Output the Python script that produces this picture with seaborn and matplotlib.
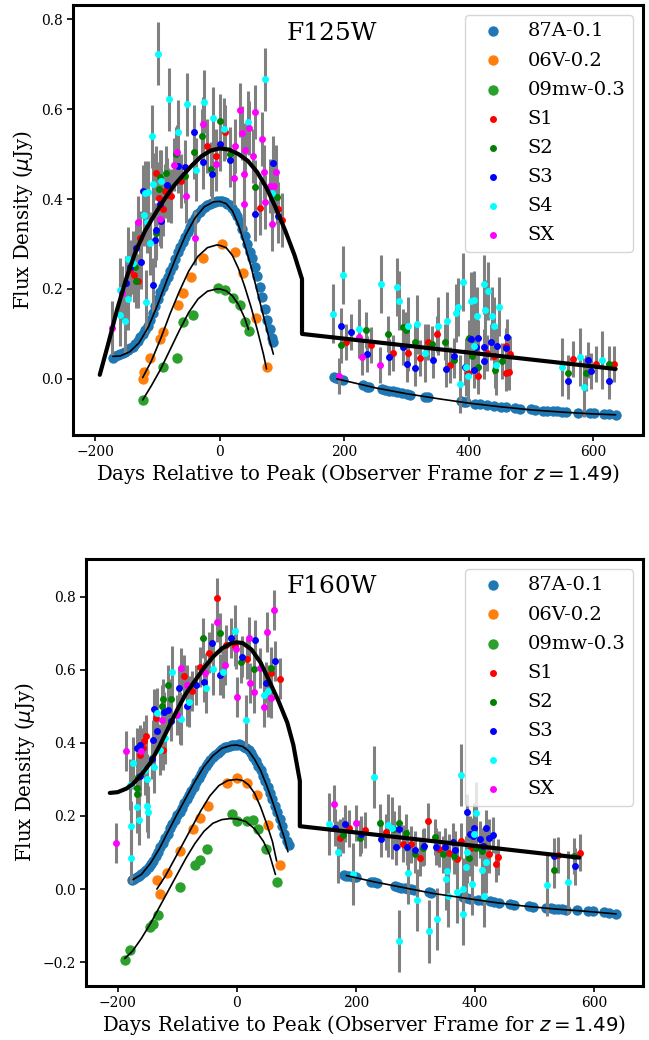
import numpy as np
import pandas as pd
import matplotlib
matplotlib.use("Agg")
import matplotlib.pyplot as plt
from matplotlib.ticker import MultipleLocator
import seaborn as sns

# ---------------- DATA ----------------
filters = ["F125W", "F160W"]
ref_labels = ["87A-0.1", "06V-0.2", "09mw-0.3"]
ref_colors = ["#1f77b4", "#ff7f0e", "#2ca02c"]
s_labels = ["S1", "S2", "S3", "S4", "SX"]
s_colors = ["red", "green", "blue", "cyan", "magenta"]

# reference (template) light curves: observed points
r87A_day = {
    "F125W": [-172, -168, -164, -160, -156, -152, -148, -144, -140, -136, -132, -128, -124, -120, -116, -112,
              -108, -104, -100, -96, -92, -88, -84, -80, -76, -72, -68, -64, -60, -56, -52, -48, -44, -40,
              -36, -32, -28, -24, -20, -16, -12, -8, -4, 0, 4, 8, 12, 16, 20, 24, 28, 32, 36, 40, 44, 48,
              52, 56, 60, 64, 68, 72, 76, 80, 84, 86,
              183, 187, 192, 198, 230, 236, 240, 260, 265, 272, 278, 285, 292, 300, 305, 330, 335, 388, 392,
              396, 410, 418, 430, 440, 452, 460, 475, 483, 500, 507, 520, 526, 535, 542, 550, 557, 575, 595,
              602, 618, 625, 636],
    "F160W": [-176, -172, -168, -164, -160, -156, -152, -148, -144, -140, -136, -132, -128, -124, -120, -116,
              -112, -108, -104, -100, -96, -92, -88, -84, -80, -76, -72, -68, -64, -60, -56, -52, -48, -44,
              -40, -36, -32, -28, -24, -20, -16, -12, -8, -4, 0, 4, 8, 12, 16, 20, 24, 28, 32, 36, 40, 44,
              48, 52, 56, 60, 64, 68, 72, 76, 80, 84, 88,
              180, 184, 188, 196, 200, 225, 230, 235, 265, 270, 276, 282, 288, 293, 298, 322, 327, 380, 386,
              392, 405, 412, 425, 432, 440, 458, 466, 490, 497, 520, 527, 533, 540, 546, 553, 572, 590, 598,
              617, 625, 637],
}
r87A_flux = {
    "F125W": [0.046, 0.050, 0.052, 0.055, 0.057, 0.060, 0.064, 0.068, 0.072, 0.078, 0.085, 0.093, 0.100, 0.108,
              0.118, 0.130, 0.146, 0.162, 0.178, 0.194, 0.205, 0.215, 0.226, 0.240, 0.252, 0.266, 0.282, 0.294,
              0.305, 0.316, 0.327, 0.338, 0.350, 0.358, 0.366, 0.372, 0.378, 0.383, 0.387, 0.390, 0.392, 0.394,
              0.395, 0.396, 0.396, 0.394, 0.390, 0.386, 0.380, 0.372, 0.362, 0.350, 0.333, 0.317, 0.300, 0.283,
              0.268, 0.250, 0.228, 0.205, 0.182, 0.155, 0.130, 0.110, 0.090, 0.082,
              0.004, 0.001, -0.001, -0.003, -0.014, -0.017, -0.018, -0.022, -0.024, -0.026, -0.028, -0.029,
              -0.031, -0.033, -0.035, -0.040, -0.041, -0.050, -0.051, -0.052, -0.055, -0.057, -0.058, -0.060,
              -0.062, -0.063, -0.065, -0.066, -0.068, -0.069, -0.071, -0.071, -0.072, -0.072, -0.073, -0.074,
              -0.076, -0.077, -0.077, -0.079, -0.079, -0.080],
    "F160W": [0.026, 0.028, 0.032, 0.036, 0.040, 0.046, 0.052, 0.060, 0.068, 0.078, 0.090, 0.102, 0.114, 0.126,
              0.139, 0.152, 0.166, 0.178, 0.190, 0.202, 0.212, 0.222, 0.236, 0.247, 0.258, 0.268, 0.280, 0.292,
              0.304, 0.316, 0.326, 0.336, 0.345, 0.353, 0.360, 0.367, 0.373, 0.379, 0.384, 0.388, 0.390, 0.392,
              0.394, 0.395, 0.395, 0.396, 0.394, 0.390, 0.385, 0.380, 0.372, 0.362, 0.350, 0.338, 0.325, 0.310,
              0.295, 0.280, 0.263, 0.246, 0.228, 0.210, 0.192, 0.172, 0.152, 0.132, 0.120,
              0.039, 0.037, 0.036, 0.034, 0.032, 0.020, 0.019, 0.017, 0.008, 0.006, 0.004, 0.002, 0.000, -0.001,
              -0.002, -0.009, -0.011, -0.023, -0.025, -0.026, -0.029, -0.031, -0.034, -0.036, -0.038, -0.042,
              -0.044, -0.047, -0.048, -0.052, -0.053, -0.054, -0.055, -0.055, -0.056, -0.058, -0.060, -0.061,
              -0.064, -0.066, -0.068],
}
r06V_day = {
    "F125W": [-124, -122, -112, -97, -92, -68, -59, -46, -27, 3, 24, 37, 58, 75],
    "F160W": [-134, -129, -117, -96, -74, -62, -49, -17, 0, 18, 34, 52, 72],
}
r06V_flux = {
    "F125W": [0.000, 0.015, 0.046, 0.088, 0.105, 0.165, 0.192, 0.226, 0.270, 0.300, 0.283, 0.236, 0.136, 0.026],
    "F160W": [0.024, -0.014, 0.045, 0.105, 0.163, 0.195, 0.227, 0.290, 0.304, 0.290, 0.258, 0.174, 0.067],
}
r09mw_day = {
    "F125W": [-124, -92, -69, -59, -43, -3, 8, 21, 32, 40, 47],
    "F160W": [-188, -179, -145, -141, -132, -96, -70, -62, -50, -8, 0, 17, 27, 36, 50, 67],
}
r09mw_flux = {
    "F125W": [-0.047, 0.027, 0.046, 0.127, 0.143, 0.202, 0.198, 0.180, 0.165, 0.127, 0.107],
    "F160W": [-0.195, -0.168, -0.105, -0.095, -0.070, 0.005, 0.067, 0.080, 0.109, 0.204, 0.185, 0.185,
              0.190, 0.163, 0.109, 0.018],
}

# model curves (knots)
m87A_day = {
    "F125W": [-172, -160, -145, -130, -115, -100, -85, -70, -55, -40, -25, -10, 0, 10, 20, 30, 40, 50, 60, 70, 80, 86],
    "F160W": [-174, -160, -145, -130, -115, -100, -85, -70, -55, -40, -25, -10, 0, 10, 20, 30, 40, 50, 60, 70, 80, 86],
}
m87A_flux = {
    "F125W": [0.050, 0.051, 0.060, 0.080, 0.115, 0.165, 0.220, 0.272, 0.320, 0.358, 0.383, 0.394, 0.395, 0.390,
              0.374, 0.342, 0.298, 0.250, 0.195, 0.140, 0.085, 0.055],
    "F160W": [0.026, 0.040, 0.070, 0.110, 0.158, 0.205, 0.250, 0.295, 0.335, 0.365, 0.385, 0.393, 0.394, 0.390,
              0.378, 0.355, 0.325, 0.285, 0.240, 0.190, 0.140, 0.102],
}
m87A_late_day = {
    "F125W": [188, 250, 300, 350, 400, 450, 500, 550, 600, 636],
    "F160W": [184, 230, 280, 330, 380, 430, 480, 530, 580, 637],
}
m87A_late_flux = {
    "F125W": [0.000, -0.020, -0.033, -0.044, -0.054, -0.062, -0.069, -0.074, -0.078, -0.080],
    "F160W": [0.037, 0.020, 0.004, -0.012, -0.024, -0.036, -0.046, -0.054, -0.060, -0.068],
}
m06V_day = {
    "F125W": [-124, -110, -95, -80, -65, -50, -35, -20, -5, 0, 10, 20, 30, 40, 50, 60, 70, 75],
    "F160W": [-134, -120, -105, -90, -75, -60, -45, -30, -15, 0, 10, 20, 30, 40, 50, 60, 67],
}
m06V_flux = {
    "F125W": [0.003, 0.040, 0.090, 0.145, 0.195, 0.240, 0.273, 0.292, 0.298, 0.297, 0.292, 0.275, 0.245, 0.205,
              0.160, 0.110, 0.055, 0.022],
    "F160W": [0.000, 0.035, 0.080, 0.125, 0.170, 0.215, 0.255, 0.283, 0.297, 0.300, 0.297, 0.285, 0.262, 0.225,
              0.180, 0.130, 0.077],
}
m09mw_day = {
    "F125W": [-124, -110, -95, -80, -65, -50, -35, -20, -5, 0, 10, 20, 30, 40, 46],
    "F160W": [-188, -175, -160, -145, -130, -115, -100, -85, -70, -55, -40, -25, -10, 0, 15, 30, 45, 55, 65],
}
m09mw_flux = {
    "F125W": [-0.047, -0.015, 0.022, 0.065, 0.108, 0.148, 0.178, 0.195, 0.200, 0.200, 0.196, 0.185, 0.165,
              0.135, 0.110],
    "F160W": [-0.190, -0.170, -0.135, -0.095, -0.050, -0.005, 0.040, 0.085, 0.125, 0.158, 0.180, 0.190, 0.193,
              0.192, 0.185, 0.165, 0.130, 0.095, 0.040],
}
mS_day = {
    "F125W": [-193, -180, -165, -150, -135, -120, -105, -90, -75, -60, -45, -30, -15, 0, 15, 30, 45, 60, 75,
              90, 105, 120, 132, 132, 636],
    "F160W": [-213, -200, -185, -174, -160, -145, -130, -115, -100, -85, -70, -55, -40, -25, -10, 0, 10, 25,
              40, 55, 70, 85, 95, 106, 106, 575],
}
mS_flux = {
    "F125W": [0.009, 0.075, 0.155, 0.225, 0.285, 0.330, 0.365, 0.398, 0.428, 0.452, 0.475, 0.495, 0.508, 0.513,
              0.510, 0.500, 0.485, 0.460, 0.425, 0.380, 0.330, 0.275, 0.222, 0.100, 0.022],
    "F160W": [0.263, 0.265, 0.275, 0.288, 0.313, 0.345, 0.390, 0.440, 0.490, 0.535, 0.570, 0.605, 0.635, 0.658,
              0.672, 0.675, 0.673, 0.655, 0.620, 0.568, 0.515, 0.455, 0.395, 0.296, 0.172, 0.086],
}

# S-candidate photometry
S1_day = {
    "F125W": [-145, -138, -131, -129, -103, -98, -91, -88, -83, -79, -62, -21, -6, 8, 64, 94, 100,
              202, 243, 278, 303, 321, 335, 349, 370, 398, 414, 429, 440, 460, 459, 464, 467, 568, 605, 634],
    "F160W": [-162, -157, -156, -152, -135, -124, -89, -75, -62, -47, -33, -18, -3, 17, 58, 72,
              174, 189, 215, 251, 279, 293, 307, 321, 340, 356, 369, 376, 394, 415, 424, 435, 438, 539, 576],
}
S1_flux = {
    "F125W": [0.243, 0.232, 0.217, 0.313, 0.458, 0.402, 0.377, 0.419, 0.410, 0.406, 0.440, 0.518, 0.495, 0.550,
              0.380, 0.378, 0.354,
              0.083, 0.075, 0.058, 0.057, 0.047, 0.082, 0.100, 0.030, 0.014, 0.007, 0.057, 0.050, 0.074, 0.014,
              0.016, 0.056, 0.045, 0.033, 0.034],
    "F160W": [0.368, 0.386, 0.404, 0.420, 0.468, 0.381, 0.584, 0.542, 0.607, 0.647, 0.795, 0.668, 0.665, 0.629,
              0.590, 0.576,
              0.141, 0.166, 0.162, 0.156, 0.124, 0.122, 0.086, 0.185, 0.109, 0.100, 0.082, 0.132, 0.113, 0.118,
              0.095, 0.068, 0.088, 0.093, 0.100],
}
S2_day = {
    "F125W": [-137, -134, -102, -98, -96, -87, -70, -56, -42, -29, -14, 0, 16, 56, 92,
              194, 235, 270, 294, 299, 313, 341, 362, 377, 400, 405, 414, 442, 453, 559, 588, 625],
    "F160W": [-168, -168, -165, -143, -126, -124, -115, -111, -57, -28, 8, 29, 57,
              179, 207, 241, 264, 273, 285, 300, 312, 333, 347, 364, 390, 402, 411, 532, 567],
}
S2_flux = {
    "F125W": [0.250, 0.218, 0.325, 0.423, 0.449, 0.458, 0.501, 0.452, 0.504, 0.540, 0.466, 0.573, 0.501, 0.426,
              0.404,
              0.076, 0.108, 0.099, 0.115, 0.109, 0.082, 0.077, 0.083, 0.042, 0.091, 0.050, 0.027, 0.020, 0.039,
              0.014, 0.013, 0.033],
    "F160W": [0.277, 0.259, 0.306, 0.359, 0.502, 0.520, 0.559, 0.521, 0.687, 0.701, 0.620, 0.602, 0.606,
              0.148, 0.140, 0.182, 0.163, 0.180, 0.154, 0.095, 0.113, 0.142, 0.095, 0.091, 0.086, 0.113, 0.104,
              0.052, 0.091],
}
S3_day = {
    "F125W": [-151, -144, -135, -126, -123, -107, -105, -102, -97, -95, -85, -68, -56, -41, -27, -13, 0, 17,
              56, 85, 93,
              195, 210, 236, 271, 295, 300, 314, 342, 363, 377, 394, 403, 408, 412, 415, 425, 425, 436, 445,
              459, 462, 560, 591, 597, 626],
    "F160W": [-168, -163, -162, -160, -143, -141, -138, -133, -122, -115, -110, -97, -83, -69, -55, -41, -28,
              -10, 9, 30, 49, 64,
              165, 182, 208, 243, 267, 273, 286, 300, 314, 334, 349, 363, 367, 386, 392, 396, 399, 409, 413,
              419, 423, 430, 532, 568],
}
S3_flux = {
    "F125W": [0.213, 0.250, 0.291, 0.261, 0.417, 0.209, 0.310, 0.332, 0.390, 0.351, 0.432, 0.473, 0.472, 0.550,
              0.483, 0.455, 0.522, 0.486, 0.367, 0.481, 0.363,
              0.117, 0.105, 0.055, 0.048, 0.070, 0.032, 0.025, 0.042, 0.021, 0.051, 0.027, 0.088, 0.019, 0.072,
              0.090, 0.072, 0.039, 0.083, 0.074, 0.068, 0.093, -0.004, 0.042, 0.018, -0.005],
    "F160W": [0.386, 0.395, 0.309, 0.381, 0.356, 0.408, 0.493, 0.433, 0.484, 0.490, 0.459, 0.549, 0.501, 0.558,
              0.566, 0.673, 0.587, 0.686, 0.636, 0.681, 0.565, 0.624,
              0.168, 0.179, 0.150, 0.138, 0.115, 0.163, 0.115, 0.108, 0.117, 0.116, 0.116, 0.130, 0.108, 0.210,
              0.151, 0.145, 0.166, 0.136, 0.118, 0.166, 0.141, 0.148, 0.090, 0.062],
}
S4_day = {
    "F125W": [-161, -161, -153, -147, -147, -139, -122, -121, -118, -117, -116, -113, -109, -107, -99, -94, -81,
              -67, -53, -39, -25, -11, 6, 45, 73, 83,
              182, 198, 224, 259, 284, 288, 302, 316, 330, 351, 365, 379, 382, 386, 391, 395, 399, 404, 408,
              409, 413, 424, 426, 431, 437, 441, 444, 449, 549, 579, 585, 614],
    "F160W": [-179, -178, -178, -174, -168, -164, -154, -151, -150, -149, -139, -133, -129, -121, -109, -96,
              -94, -80, -52, -39, -23, -3, 16, 46, 53,
              155, 170, 196, 231, 254, 261, 273, 288, 302, 322, 337, 352, 353, 354, 370, 377, 380, 380, 385,
              387, 395, 398, 402, 412, 415, 418, 521, 556],
}
S4_flux = {
    "F125W": [0.198, 0.143, 0.128, 0.267, 0.178, 0.258, 0.365, 0.414, 0.172, 0.349, 0.415, 0.302, 0.540, 0.433,
              0.724, 0.440, 0.622, 0.550, 0.611, 0.465, 0.617, 0.580, 0.555, 0.571, 0.667, 0.414,
              0.145, 0.231, 0.112, 0.211, 0.205, 0.174, 0.117, 0.121, 0.057, 0.117, 0.128, 0.146, 0.160, -0.011,
              0.216, 0.027, 0.007, 0.173, 0.176, 0.074, 0.139, 0.210, 0.154, 0.195, 0.139, 0.117, 0.030, 0.161,
              0.027, 0.049, -0.019, 0.042],
    "F160W": [0.286, 0.172, 0.086, 0.345, 0.224, 0.190, 0.327, 0.227, 0.300, 0.211, 0.333, 0.481, 0.381, 0.413,
              0.595, 0.468, 0.465, 0.513, 0.551, 0.602, 0.593, 0.706, 0.462, 0.531, 0.542,
              0.177, 0.101, 0.042, 0.307, 0.174, 0.168, -0.141, 0.043, -0.031, -0.116, -0.082, 0.027, 0.050,
              -0.018, -0.007, 0.311, 0.000, -0.068, 0.059, 0.102, 0.015, 0.151, 0.209, 0.053, -0.019, 0.075,
              0.012, 0.018],
}
SX_day = {
    "F125W": [-174, -158, -132, -97, -74, -69, -55, -40, -27, -6, 22, 25, 33, 35, 38, 38, 41, 47, 54, 56, 67,
              71, 73, 80, 84, 87, 90,
              192, 223, 228, 258],
    "F160W": [-202, -186, -160, -125, -101, -94, -84, -54, -33, -20, -1, 1, 20, 23, 29, 39, 46, 51, 57, 63,
              164, 200],
}
SX_flux = {
    "F125W": [0.114, 0.192, 0.348, 0.356, 0.477, 0.504, 0.406, 0.313, 0.568, 0.478, 0.448, 0.518, 0.599, 0.547,
              0.457, 0.390, 0.510, 0.558, 0.495, 0.594, 0.533, 0.460, 0.393, 0.429, 0.345, 0.429, 0.460,
              0.007, 0.093, 0.048, 0.030],
    "F160W": [0.127, 0.377, 0.377, 0.463, 0.477, 0.604, 0.558, 0.592, 0.730, 0.612, 0.658, 0.525, 0.688, 0.563,
              0.538, 0.604, 0.498, 0.703, 0.524, 0.763,
              0.234, 0.181],
}
# typical 1-sigma uncertainties (early / late epochs) per candidate
err_early = {"F125W": [0.06, 0.06, 0.06, 0.07, 0.06], "F160W": [0.055, 0.055, 0.055, 0.07, 0.055]}
err_late = {"F125W": [0.04, 0.04, 0.04, 0.065, 0.04], "F160W": [0.05, 0.05, 0.05, 0.085, 0.05]}
split_day = 150

# ---------------- STYLE ----------------
sns.set_style("ticks")
plt.rcParams.update({
    "font.family": ["DejaVu Serif"],
    "mathtext.fontset": "dejavusans",
    "axes.edgecolor": "black",
    "axes.linewidth": 2.2,
    "xtick.color": "black",
    "ytick.color": "black",
    "xtick.labelsize": 10,
    "ytick.labelsize": 10,
    "xtick.major.size": 4,
    "ytick.major.size": 4,
    "xtick.major.width": 1.2,
    "ytick.major.width": 1.2,
    "axes.labelsize": 14.2,
    "axes.labelcolor": "black",
    "text.color": "black",
})

fig = plt.figure(figsize=(6.49, 10.4), dpi=100)
ax_pos = {"F125W": [0.1125, 0.5817, 0.8783, 0.4135], "F160W": [0.1325, 0.052, 0.8582, 0.4105]}
xlims = {"F125W": (-236, 680), "F160W": (-253, 682)}
ylims = {"F125W": (-0.125, 0.832), "F160W": (-0.265, 0.903)}
title_pos = {"F125W": (0.375, 0.934), "F160W": (0.361, 0.935)}

S_day = [S1_day, S2_day, S3_day, S4_day, SX_day]
S_flux = [S1_flux, S2_flux, S3_flux, S4_flux, SX_flux]
R_day = [r87A_day, r06V_day, r09mw_day]
R_flux = [r87A_flux, r06V_flux, r09mw_flux]
M_day = [m87A_day, m06V_day, m09mw_day]
M_flux = [m87A_flux, m06V_flux, m09mw_flux]

for f in filters:
    ax = fig.add_axes(ax_pos[f])
    # reference SNe points
    for lab, col, dd, ff in zip(ref_labels, ref_colors, R_day, R_flux):
        sns.scatterplot(x=dd[f], y=ff[f], ax=ax, color=col, s=56, linewidth=0, label=lab, zorder=2)
    # error bars of candidates
    for i, (dd, ff) in enumerate(zip(S_day, S_flux)):
        d = np.array(dd[f]); y = np.array(ff[f])
        e = np.where(d < split_day, err_early[f][i], err_late[f][i])
        ax.errorbar(d, y, yerr=e, fmt="none", ecolor="gray", elinewidth=2.2, capsize=0, zorder=3)
    # candidate points
    for lab, col, dd, ff in zip(s_labels, s_colors, S_day, S_flux):
        sns.scatterplot(x=dd[f], y=ff[f], ax=ax, color=col, s=25, linewidth=0, label=lab, zorder=4)
    # model lines
    for dd, ff in zip(M_day, M_flux):
        sns.lineplot(x=dd[f], y=ff[f], ax=ax, color="black", lw=1.2, sort=False, estimator=None,
                     legend=False, zorder=5)
    sns.lineplot(x=m87A_late_day[f], y=m87A_late_flux[f], ax=ax, color="black", lw=1.2, sort=False,
                 estimator=None, legend=False, zorder=5)
    sns.lineplot(x=mS_day[f], y=mS_flux[f], ax=ax, color="black", lw=3, sort=False, estimator=None,
                 legend=False, zorder=6)

    ax.set_xlim(*xlims[f])
    ax.set_ylim(*ylims[f])
    ax.xaxis.set_major_locator(MultipleLocator(200))
    ax.yaxis.set_major_locator(MultipleLocator(0.2))
    ax.set_xlabel(r"Days Relative to Peak (Observer Frame for $z = 1.49$)", labelpad=2)
    ax.set_ylabel(r"Flux Density ($\mu$Jy)")
    ax.text(title_pos[f][0], title_pos[f][1], f, transform=ax.transAxes, fontsize=18,
            ha="left", va="center")
    ax.legend(loc="upper right", fontsize=14, labelspacing=0.57)
    for sp in ax.spines.values():
        sp.set_visible(True)

fig.savefig("out.png", dpi=100)
